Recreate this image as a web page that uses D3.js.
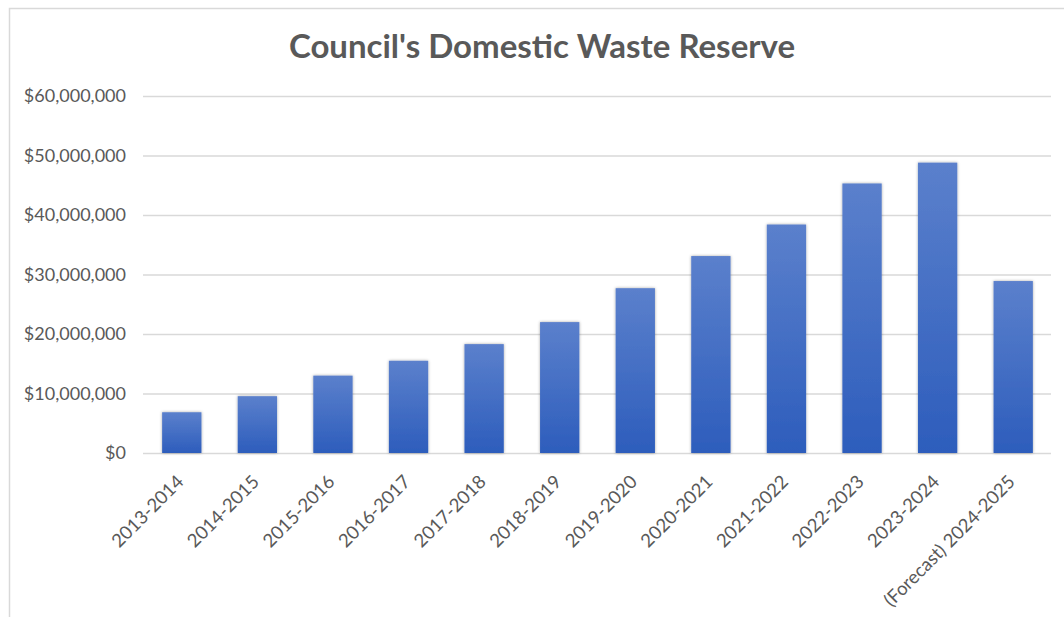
<!DOCTYPE html>
<html>
<head>
<meta charset="utf-8">
<script src="https://cdn.jsdelivr.net/npm/d3@7"></script>
<style>
  body { margin: 0; background: #fff; }
  svg { display: block; }
  svg text { font-family: Lato, "Open Sans", sans-serif; }
</style>
</head>
<body>
<div id="chart"></div>
<script>
// chart data
const years = ["2013-2014", "2014-2015", "2015-2016", "2016-2017", "2017-2018", "2018-2019",
    "2019-2020", "2020-2021", "2021-2022", "2022-2023", "2023-2024", "(Forecast) 2024-2025"];
const reserve = [6850000, 9550000, 13000000, 15500000, 18300000, 22000000,
    27700000, 33100000, 38400000, 45300000, 48800000, 28900000];
const yTicks = [0, 10000000, 20000000, 30000000, 40000000, 50000000, 60000000];
const title = "Council's Domestic Waste Reserve";

const width = 1064, height = 617;
const margin = {top: 96, right: 13, bottom: 164, left: 144};

const svg = d3.select("#chart").append("svg")
    .attr("width", width)
    .attr("height", height);

const defs = svg.append("defs");

const grad = defs.append("linearGradient")
    .attr("id", "barGradient")
    .attr("x1", "0%").attr("y1", "0%")
    .attr("x2", "0%").attr("y2", "100%");
grad.append("stop").attr("offset", "0%").attr("stop-color", "#5b80cc");
grad.append("stop").attr("offset", "100%").attr("stop-color", "#2d5dbc");

const shadow = defs.append("filter")
    .attr("id", "barShadow")
    .attr("x", "-30%").attr("y", "-10%")
    .attr("width", "160%").attr("height", "120%");
shadow.append("feDropShadow")
    .attr("dx", 0).attr("dy", 0)
    .attr("stdDeviation", 1.6)
    .attr("flood-color", "#000")
    .attr("flood-opacity", 0.35);

// chart frame (left and top edges show in the reference)
svg.append("path")
    .attr("d", `M9.5,${height} V8.5 H${width}`)
    .attr("fill", "none")
    .attr("stroke", "#d9d9d9")
    .attr("stroke-width", 1.5);

const x = d3.scaleBand()
    .domain(years)
    .range([margin.left, width - margin.right])
    .paddingInner(0.48)
    .paddingOuter(0.24);

const y = d3.scaleLinear()
    .domain([0, 60000000])
    .range([height - margin.bottom, margin.top]);

const fmt = v => "$" + d3.format(",")(v);

// gridlines + y labels
const yAxis = svg.append("g")
    .attr("transform", `translate(${margin.left - 1},0)`)
    .call(d3.axisLeft(y).tickValues(yTicks).tickFormat(fmt)
        .tickSize(-(width - margin.right - margin.left + 1)).tickPadding(17));
yAxis.select(".domain").remove();
yAxis.attr("font-family", null);
yAxis.selectAll(".tick line").attr("stroke", "#d9d9d9").attr("stroke-width", 1.5);
yAxis.selectAll(".tick text")
    .attr("fill", "#595959")
    .style("font-size", "18px");

// bars
svg.append("g")
    .selectAll("rect")
    .data(years)
    .join("rect")
    .attr("x", d => x(d))
    .attr("width", x.bandwidth())
    .attr("y", (d, i) => y(reserve[i]))
    .attr("height", (d, i) => y(0) - y(reserve[i]))
    .attr("fill", "url(#barGradient)")
    .attr("filter", "url(#barShadow)");

// x labels
const xAxis = svg.append("g")
    .attr("transform", `translate(0,${y(0)})`)
    .call(d3.axisBottom(x).tickSize(0).tickPadding(0));
xAxis.select(".domain").remove();
xAxis.attr("font-family", null);
xAxis.selectAll(".tick text")
    .attr("fill", "#595959")
    .style("font-size", "18.5px")
    .attr("text-anchor", "end")
    .attr("dy", null)
    .attr("transform", "translate(3,30) rotate(-45)");

// title
svg.append("text")
    .attr("x", 542)
    .attr("y", 58)
    .attr("text-anchor", "middle")
    .attr("fill", "#595959")
    .style("font-size", "33px")
    .style("font-weight", "bold")
    .text(title);
</script>
</body>
</html>
